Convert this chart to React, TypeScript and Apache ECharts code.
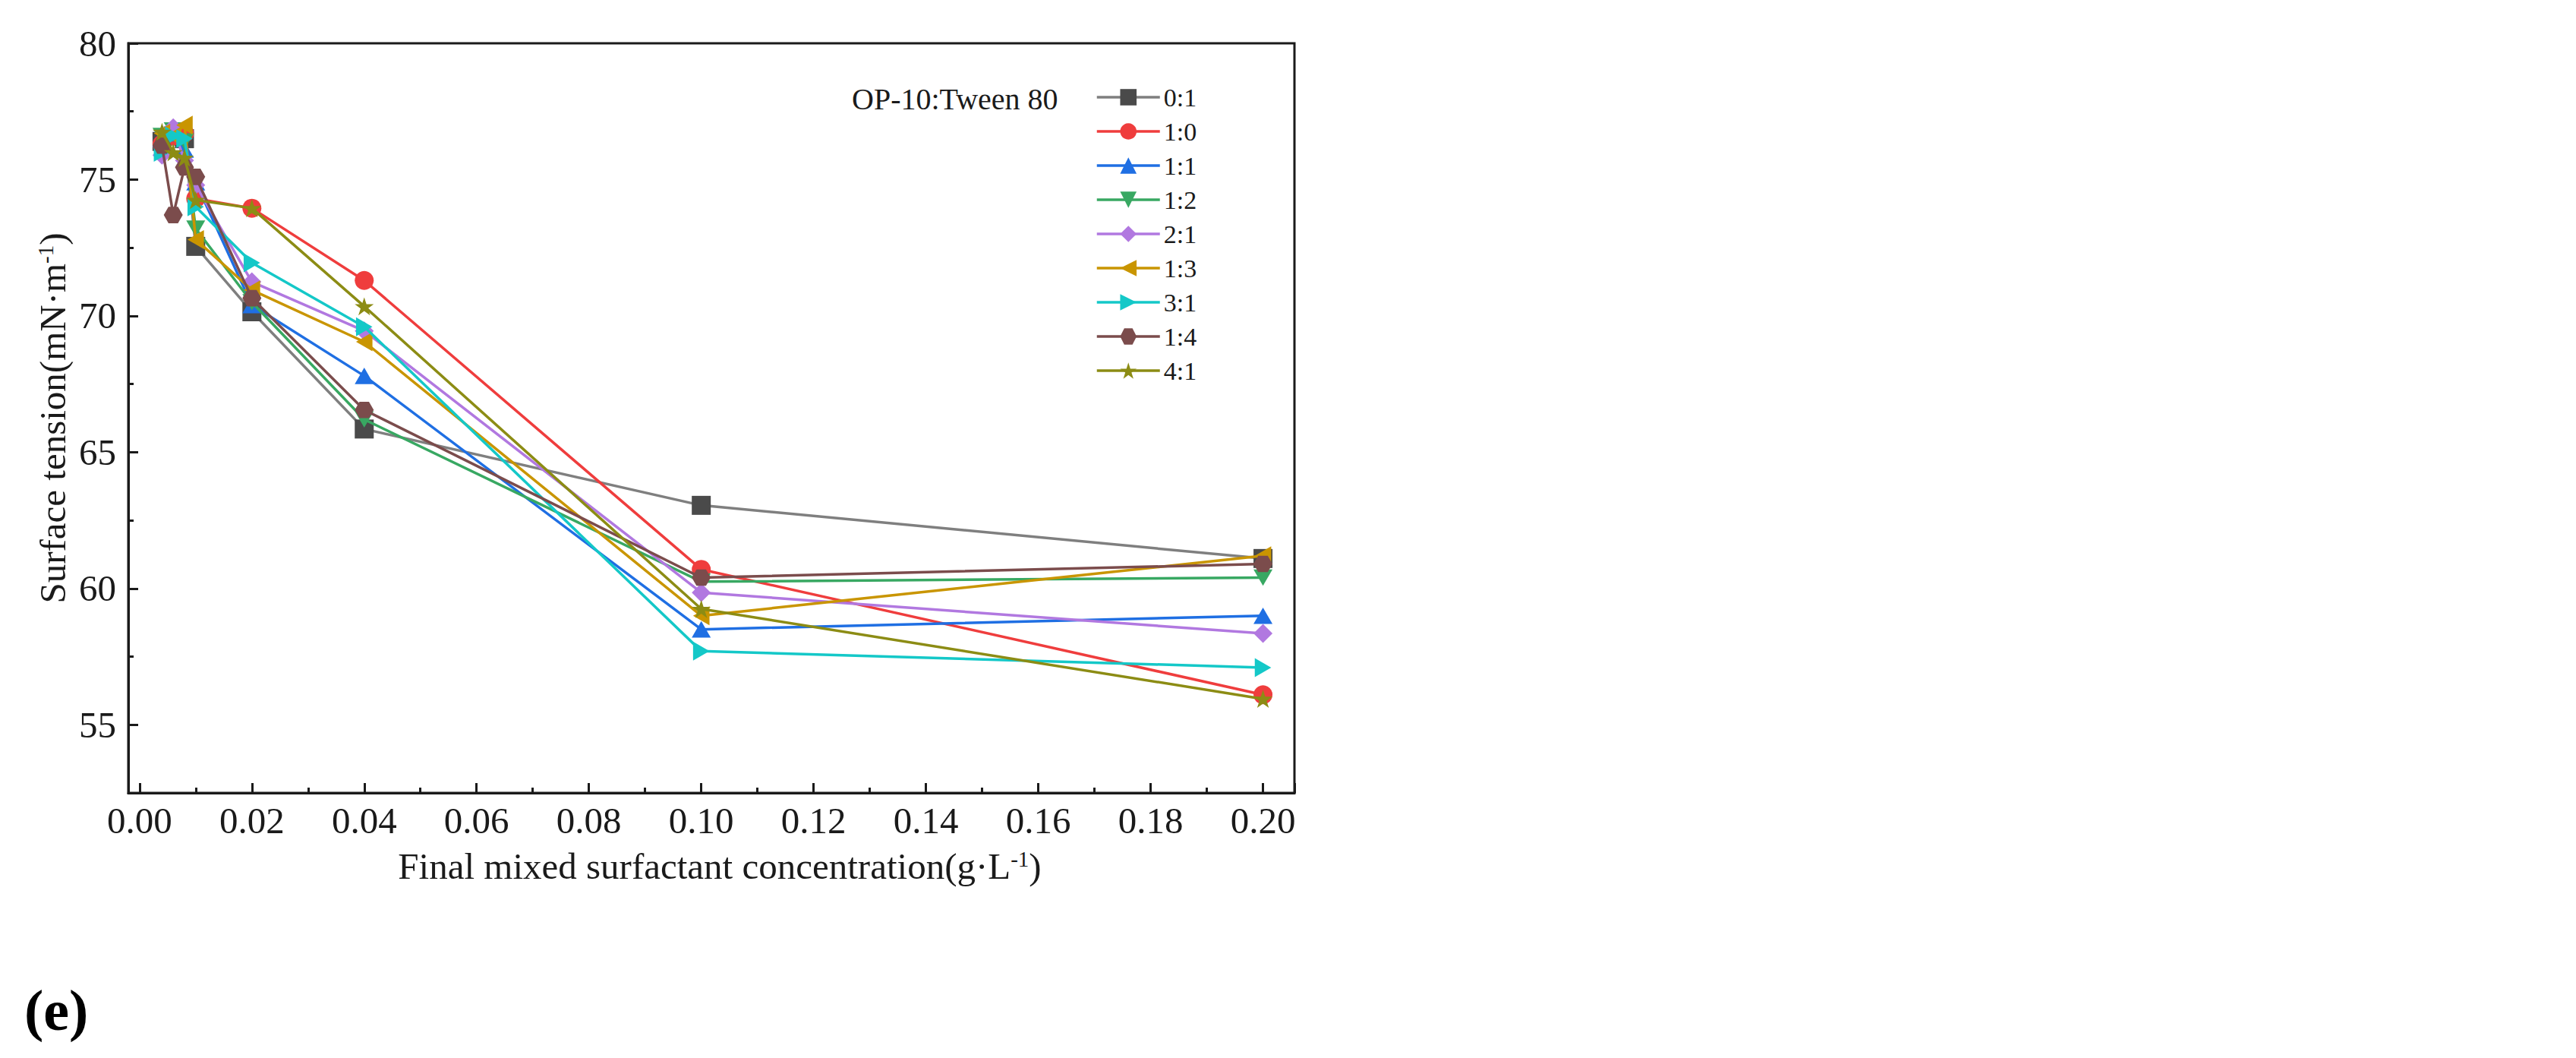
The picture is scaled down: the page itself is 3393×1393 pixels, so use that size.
import { useEffect, useRef } from 'react';
import * as echarts from 'echarts';

// concentration (g/L) shared by every ratio
const concentrations = [0.004, 0.006, 0.008, 0.01, 0.02, 0.04, 0.1, 0.2];

const ratioNames = ['0:1', '1:0', '1:1', '1:2', '2:1', '1:3', '3:1', '1:4', '4:1'];

// surface tension (mN/m), one array per OP-10:Tween 80 ratio
const t01 = [76.4, 76.6, 76.5, 72.55, 70.15, 65.85, 63.05, 61.1];
const t10 = [76.3, 76.6, 76.7, 74.3, 73.95, 71.3, 60.7, 56.1];
const t11 = [76.5, 76.7, 76.1, 74.9, 70.4, 67.8, 58.5, 59.0];
const t12 = [76.6, 76.8, 76.4, 73.2, 70.5, 66.2, 60.25, 60.4];
const t21 = [75.9, 76.9, 75.7, 74.8, 71.25, 69.45, 59.85, 58.35];
const t13 = [76.7, 76.6, 77.0, 72.8, 70.95, 69.05, 59.0, 61.2];
const t31 = [76.0, 76.6, 76.5, 74.0, 71.95, 69.6, 57.7, 57.1];
const t14 = [76.25, 73.7, 75.45, 75.1, 70.65, 66.55, 60.4, 60.9];
const t41 = [76.75, 76.0, 75.8, 74.25, 73.95, 70.35, 59.25, 55.95];

const tensions = [t01, t10, t11, t12, t21, t13, t31, t14, t41];

const lineColors = ['#7f7f7f', '#ef3d3d', '#1f6fe3', '#38a862', '#b178e0', '#c99500', '#14c8c8', '#7b4c4c', '#8c8c14'];
const markColors = ['#4a4a4a', '#ef3d3d', '#1f6fe3', '#38a862', '#b178e0', '#c99500', '#14c8c8', '#7b4c4c', '#8c8c14'];

const symbols = [
  'rect',
  'circle',
  'path://M50,0 L100,86.6 L0,86.6 Z',
  'path://M0,0 L100,0 L50,86.6 Z',
  'diamond',
  'path://M0,50 L86.6,0 L86.6,100 Z',
  'path://M0,0 L86.6,50 L0,100 Z',
  'path://M25,0 L75,0 L100,43.3 L75,86.6 L25,86.6 L0,43.3 Z',
  'path://M0,-100 L22.45,-30.9 L95.1,-30.9 L36.3,11.8 L58.8,80.9 L0,38.2 L-58.8,80.9 L-36.3,11.8 L-95.1,-30.9 L-22.45,-30.9 Z',
];

const FONT = '"Liberation Serif", "Times New Roman", serif';
const INK = '#1a1a1a';

export default function App() {
  const ref = useRef<HTMLDivElement | null>(null);

  useEffect(() => {
    if (!ref.current) return;
    const chart = echarts.init(ref.current, undefined, { renderer: 'svg' });

    const axisCommon = {
      axisLine: { show: true, onZero: false, lineStyle: { color: INK, width: 3 } },
      axisTick: { show: true, inside: true, length: 13, lineStyle: { color: INK, width: 3 } },
      minorTick: { show: true, splitNumber: 2, length: 7, lineStyle: { color: INK, width: 3 } },
      splitLine: { show: false },
    };

    chart.setOption({
      animation: false,
      backgroundColor: '#fff',
      title: [
        {
          text: 'OP-10:Tween 80',
          left: 1122,
          top: 110,
          padding: 0,
          textStyle: { fontFamily: FONT, fontSize: 40, fontWeight: 'normal', color: INK },
        },
        {
          text: '(e)',
          left: 32,
          top: 1292,
          padding: 0,
          textStyle: { fontFamily: FONT, fontSize: 76, fontWeight: 'bold', color: '#000' },
        },
      ],
      legend: {
        orient: 'vertical',
        left: 1443,
        top: 111,
        padding: 0,
        itemWidth: 83,
        itemHeight: 27,
        itemGap: 11,
        data: ratioNames,
        lineStyle: { width: 3.5 },
        textStyle: { fontFamily: FONT, fontSize: 34, lineHeight: 34, color: INK },
      },
      grid: {
        left: 169,
        right: 1688,
        top: 57,
        bottom: 349,
        show: true,
        borderColor: INK,
        borderWidth: 3,
      },
      xAxis: {
        type: 'value',
        min: -0.002,
        max: 0.2056,
        splitNumber: 10,
        ...axisCommon,
        axisLabel: {
          fontFamily: FONT,
          fontSize: 49,
          color: INK,
          margin: 12,
          showMinLabel: false,
          showMaxLabel: false,
          formatter: (v: number) => v.toFixed(2),
        },
        name: 'Final mixed surfactant concentration(g·L{s|-1})',
        nameLocation: 'middle',
        nameGap: 72,
        nameTextStyle: {
          fontFamily: FONT,
          fontSize: 49,
          color: INK,
          padding: [0, 0, 0, 22],
          rich: { s: { fontFamily: FONT, fontSize: 29, color: INK, verticalAlign: 'top' } },
        },
      },
      yAxis: {
        type: 'value',
        min: 52.5,
        max: 80,
        splitNumber: 5,
        ...axisCommon,
        axisLabel: {
          fontFamily: FONT,
          fontSize: 49,
          color: INK,
          margin: 16,
          showMinLabel: false,
          formatter: (v: number) => String(Math.round(v)),
        },
        name: 'Surface tension(mN·m{s|-1})',
        nameLocation: 'middle',
        nameGap: 75,
        nameTextStyle: {
          fontFamily: FONT,
          fontSize: 49,
          color: INK,
          rich: { s: { fontFamily: FONT, fontSize: 29, color: INK, verticalAlign: 'top' } },
        },
      },
      series: ratioNames.map((name, i) => ({
        name,
        type: 'line',
        data: concentrations.map((c, j) => [c, tensions[i][j]]),
        symbol: symbols[i],
        symbolSize: 25,
        symbolKeepAspect: true,
        showAllSymbol: true,
        lineStyle: { color: lineColors[i], width: 3.5 },
        itemStyle: { color: markColors[i] },
        z: 2 + i,
      })),
    });

    return () => {
      chart.dispose();
    };
  }, []);

  return (
    <div
      ref={ref}
      style={{ position: 'fixed', left: 0, top: 0, width: 3393, height: 1393 }}
    />
  );
}
